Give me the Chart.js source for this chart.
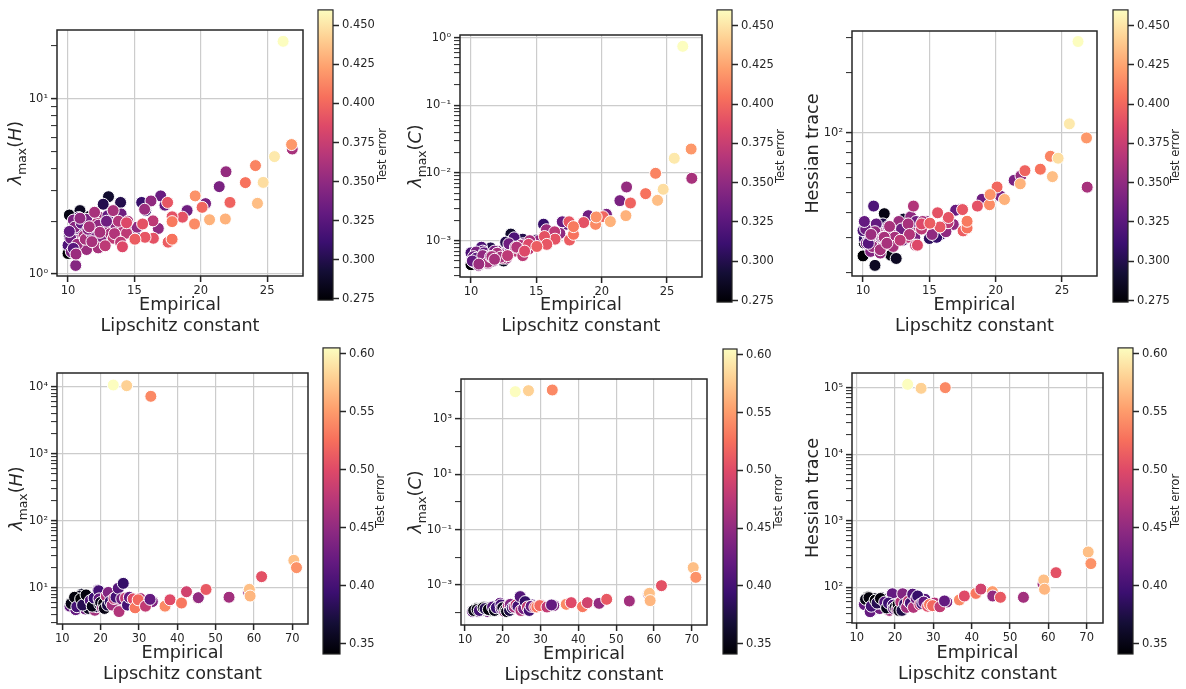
<!DOCTYPE html>
<html>
<head>
<meta charset="utf-8">
<script src="https://cdn.jsdelivr.net/npm/chart.js@4.4.1/dist/chart.umd.min.js"></script>
<style>
body { margin: 0; background: #fff; width: 1186px; height: 689px; position: relative; overflow: hidden; }
canvas { position: absolute; }
</style>
</head>
<body>
<canvas id="p1"></canvas><canvas id="p2"></canvas><canvas id="p3"></canvas>
<canvas id="p4"></canvas><canvas id="p5"></canvas><canvas id="p6"></canvas>
<canvas id="c1"></canvas><canvas id="c2"></canvas><canvas id="c3"></canvas>
<canvas id="c4"></canvas><canvas id="c5"></canvas><canvas id="c6"></canvas>
<script>
// top row: one network per point, shared by the three upper plots
const topLip = [10.00,10.10,10.90,11.60,12.10,12.50,13.05,12.65,13.96,11.50,11.00,10.10,15.00,10.33,15.85,15.55,10.50,10.00,10.80,13.30,
  10.90,17.30,16.98,18.97,12.85,10.40,10.25,21.39,20.36,10.58,12.00,11.10,10.75,16.80,16.25,11.30,21.90,12.30,11.40,15.77,
  10.2,10.5,10.7,11.0,11.2,11.4,11.7,11.9,12.2,12.5,12.7,13.0,13.2,13.6,13.9,14.2,14.8,10.4,10.9,11.3,11.8,12.3,12.9,13.4,10.1,10.6,11.5,12.0,14.0,15.2,
  26.89,13.40,12.40,12.27,11.60,11.80,14.50,13.80,13.50,16.40,14.41,13.96,12.80,14.41,14.10,18.62,16.43,15.62,17.84,17.50,
  15.80,17.54,15.04,22.20,20.10,23.36,17.84,17.84,24.12,19.53,19.58,26.84,21.85,20.66,24.27,24.70,25.55,26.20];
const topErr = [0.274,0.280,0.285,0.280,0.280,0.285,0.290,0.300,0.300,0.300,0.300,0.305,0.305,0.310,0.310,0.310,0.315,0.320,0.320,0.320,
  0.330,0.330,0.332,0.335,0.340,0.340,0.340,0.340,0.340,0.345,0.345,0.350,0.350,0.350,0.350,0.352,0.352,0.355,0.355,0.355,
  0.335,0.345,0.355,0.330,0.360,0.340,0.350,0.335,0.365,0.345,0.355,0.330,0.360,0.350,0.340,0.365,0.345,0.325,0.350,0.360,0.340,0.350,0.335,0.370,0.330,0.355,0.345,0.360,0.335,0.350,
  0.360,0.360,0.360,0.360,0.360,0.360,0.360,0.365,0.365,0.370,0.370,0.370,0.370,0.385,0.385,0.390,0.390,0.390,0.390,0.392,
  0.392,0.395,0.395,0.398,0.400,0.405,0.405,0.408,0.412,0.415,0.418,0.420,0.430,0.430,0.435,0.447,0.452,0.460];
const topLamH = [1.31,2.17,2.30,2.13,1.86,1.90,2.76,2.50,2.56,1.95,1.50,1.63,1.67,1.78,2.30,2.56,1.90,1.46,2.10,1.82,
  1.70,2.47,2.79,2.30,1.72,2.03,1.34,3.15,2.52,1.12,1.60,2.03,1.56,1.82,2.61,1.40,3.83,2.12,1.38,2.34,
  1.60,1.85,1.48,1.95,1.65,2.05,1.75,1.55,1.95,1.62,1.85,2.15,1.70,1.90,2.05,1.80,1.75,1.40,2.08,1.58,1.70,1.90,2.00,1.60,1.75,1.30,1.80,2.25,2.20,1.85,
  5.16,2.30,1.73,1.41,1.86,1.53,2.00,2.00,1.70,2.01,1.71,1.52,1.45,1.96,1.43,2.11,1.60,1.93,2.12,2.56,
  1.62,1.52,1.58,2.56,2.40,3.32,1.58,1.99,4.15,1.93,2.79,5.47,2.06,2.04,2.53,3.33,4.67,21.2];
const topLamC = [0.00044,0.00060,0.00055,0.00062,0.00058,0.00050,0.00125,0.00095,0.00105,0.00078,0.00062,0.00065,0.00102,0.00060,0.00120,0.00175,0.00070,0.00066,0.00080,0.00110,
  0.00070,0.00175,0.00190,0.00234,0.00072,0.00068,0.00048,0.00390,0.00245,0.00043,0.00070,0.00062,0.00052,0.00128,0.00125,0.00046,0.00621,0.00058,0.00050,0.00145,
  0.00058,0.00052,0.00047,0.00066,0.00055,0.00060,0.00050,0.00063,0.00058,0.00064,0.00055,0.00075,0.00068,0.00078,0.00085,0.00072,0.00095,0.00055,0.00060,0.00048,0.00070,0.00062,0.00090,0.00070,0.00050,0.00045,0.00058,0.00065,0.00090,0.00100,
  0.00834,0.00080,0.00055,0.00057,0.00058,0.00053,0.00100,0.00085,0.00080,0.00135,0.00075,0.00060,0.00060,0.00088,0.00070,0.00185,0.00105,0.00115,0.00124,0.00190,
  0.00088,0.00102,0.00082,0.00360,0.00226,0.00495,0.00124,0.00161,0.00989,0.00174,0.00224,0.0226,0.00234,0.00191,0.00394,0.00574,0.0165,0.745];
const topTrace = [24.2,28,21.7,39.4,24.4,23.5,37,33,32.2,35,26,29.5,29.6,31,31,30,27,32.4,43,30,
  31,41.3,41,46.5,31,34,28,57.9,48.2,25.5,30,32,29,34.8,32,25,61,33,27,33.8,
  33,29,27,35,31,30,28,34,32,30,36,29,33,38,30,34,36,28,32,26,29,31,33,30,36,31,30,34,36,31,
  53.5,35,30,27,30,28,36,43,31,35.5,33,27.4,29,35,27.4,43,37.7,39.8,33.4,41.3,
  33.8,32.3,35.3,64.7,53.6,65.8,33.4,36.1,76.4,43.7,49.1,94.4,55.6,46.4,60.4,74.7,111,287];

// bottom row
const botLip = [13.0,12.5,12.0,14.0,15.0,13.5,15.5,16.0,14.5,16.5,14.2,15.8,17.0,17.5,16.8,18.0,18.5,18.8,19.0,19.3,
  12.3,13.2,13.8,14.8,15.3,16.2,17.3,17.8,18.3,19.8,20.3,21.3,22.8,23.8,25.2,26.2,27.8,29.3,30.3,33.5,
  19.5,19.6,20.0,20.5,20.8,21.0,21.5,21.8,22.0,22.5,23.0,23.5,24.0,24.6,24.8,25.5,25.9,26.5,27.0,27.5,
  28.5,29.0,29.8,31.7,32.9,36.8,38.1,41.1,42.4,45.4,45.5,47.5,53.5,58.6,58.8,59.0,62.0,70.4,71.1,33.1,
  26.8,23.3];
const botErr = [0.341,0.380,0.420,0.440,0.360,0.420,0.345,0.430,0.355,0.370,0.345,0.410,0.350,0.440,0.355,0.345,0.460,0.350,0.380,0.420,
  0.350,0.345,0.400,0.342,0.380,0.346,0.410,0.352,0.395,0.360,0.430,0.400,0.420,0.450,0.440,0.460,0.410,0.490,0.470,0.440,
  0.400,0.420,0.355,0.450,0.345,0.350,0.470,0.375,0.440,0.390,0.460,0.480,0.400,0.410,0.470,0.430,0.390,0.480,0.400,0.420,
  0.500,0.530,0.520,0.480,0.420,0.540,0.500,0.530,0.490,0.550,0.450,0.510,0.460,0.460,0.570,0.565,0.505,0.570,0.545,0.540,
  0.580,0.605];
const botLamH = [6.5,6.0,5.3,5.0,8.0,4.7,6.0,4.8,7.5,7.0,5.6,5.8,5.5,6.2,4.9,6.5,4.6,7.5,5.2,9.2,
  5.8,7.2,5.2,6.8,5.5,7.8,6.4,5.3,7.0,5.6,6.3,5.2,7.0,6.0,5.8,6.5,6.0,5.5,6.9,6.2,
  9.0,6.8,6.0,5.0,5.8,4.9,7.5,5.5,8.5,6.2,5.5,6.9,7.2,9.8,4.4,6.8,11.6,7.0,5.5,7.2,
  6.8,5.0,6.6,5.3,6.7,5.3,6.6,5.9,8.7,7.0,7.1,9.4,7.2,8.6,9.44,7.5,14.6,25.6,19.9,7180,
  10350,10590];
const botLamC = [0.00014,0.00012,0.00011,0.00013,0.00016,0.00011,0.00012,0.00011,0.00014,0.00015,0.00012,0.00013,0.00012,0.00014,0.00012,0.00017,0.00012,0.00016,0.00013,0.00022,
  0.00012,0.00013,0.00012,0.00015,0.00014,0.00013,0.00016,0.00012,0.00015,0.00014,0.00013,0.00016,0.00017,0.00015,0.00018,0.00016,0.00019,0.00017,0.00018,0.00018,
  0.00019,0.00014,0.00015,0.00011,0.00013,0.00011,0.00018,0.00012,0.00020,0.00015,0.00016,0.00019,0.00017,0.00038,0.00012,0.00014,0.00025,0.00016,0.00012,0.00017,
  0.00016,0.00016,0.00018,0.00016,0.00019,0.00020,0.00023,0.000165,0.00023,0.00021,0.000217,0.000303,0.000264,0.00047,0.00050,0.000272,0.000946,0.00424,0.00189,11170,
  10570,9720];
const botTrace = [72,62,55,45,63,43,60,48,68,70,57,58,66,52,63,62,45,65,57,80,
  66,70,52,64,58,68,60,49,58,52,56,50,62,58,64,56,66,55,58,60,
  54,48,50,47,55,45,60,45,80,56,50,62,58,79,50,68,74,55,57,60,
  52,55,53,51,62.4,64.6,74,81,94,86,74,70.8,70.8,112,129,93.6,166,340,227,100000,
  97700,112000];

// tick labels
const topLipTicks = [10, 15, 20, 25];
const botLipTicks = [10, 20, 30, 40, 50, 60, 70];
const topErrTicks = [0.275, 0.300, 0.325, 0.350, 0.375, 0.400, 0.425, 0.450];
const botErrTicks = [0.35, 0.40, 0.45, 0.50, 0.55, 0.60];
const decH1 = [0, 1];
const decC1 = [-3, -2, -1, 0];
const decT1 = [2];
const decH2 = [1, 2, 3, 4];
const decC2 = [-3, -1, 1, 3];
const decT2 = [2, 3, 4, 5];

const FONT = "'DejaVu Sans', sans-serif";
const INK = '#262626';
const magmaStops = ['#000004','#140e36','#3b0f70','#641a80','#8c2981','#b73779','#de4968','#f7705c','#fe9f6d','#fecf92','#fcfdbf'];

function hexRgb(h) {
    return [parseInt(h.slice(1, 3), 16), parseInt(h.slice(3, 5), 16), parseInt(h.slice(5, 7), 16)];
}

function magma(t) {
    t = Math.max(0, Math.min(1, t));
    const s = t * (magmaStops.length - 1);
    const i = Math.min(Math.floor(s), magmaStops.length - 2);
    const f = s - i;
    const a = hexRgb(magmaStops[i]), b = hexRgb(magmaStops[i + 1]);
    return 'rgb(' + a.map((v, k) => Math.round(v + (b[k] - v) * f)).join(',') + ')';
}

const SUP = {'-': '⁻', '0': '⁰', '1': '¹', '2': '²', '3': '³', '4': '⁴', '5': '⁵'};
function decadeLabel(v) {
    const e = String(Math.round(Math.log10(v)));
    return '10' + e.split('').map(ch => SUP[ch]).join('');
}

// log ticks: decades (labelled ones listed) plus minor ticks in between
function logTicks(min, max, decades, minor) {
    const out = [];
    const subs = minor ? [1, 2, 3, 4, 5, 6, 7, 8, 9] : [1];
    for (let e = Math.floor(Math.log10(min)); e <= Math.ceil(Math.log10(max)); e++) {
        subs.forEach(m => {
            const v = m * Math.pow(10, e);
            if (v >= min && v <= max) out.push({value: v, lab: m === 1 && decades.includes(e)});
        });
    }
    return out;
}

// axes frame (all four spines)
const frame = {
    id: 'frame',
    afterDatasetsDraw(chart, args, o) {
        const a = chart.chartArea, c = chart.ctx;
        c.save();
        c.strokeStyle = INK;
        c.lineWidth = o.w;
        c.strokeRect(a.left, a.top, a.right - a.left, a.bottom - a.top);
        c.restore();
    }
};

// rotated axis titles with mathtext-like pieces: i = italic, r = roman, s = subscript
const mathTitle = {
    id: 'mathTitle',
    afterDraw(chart, args, o) {
        if (!o.parts) return;
        const c = chart.ctx, a = chart.chartArea, size = o.size;
        const fontOf = p => (p[1] === 'i' ? 'italic ' : '') + (p[1] === 's' ? size * 0.7 : size) + 'px ' + FONT;
        let total = 0;
        const w = o.parts.map(p => { c.font = fontOf(p); const m = c.measureText(p[0]).width; total += m; return m; });
        c.save();
        c.translate(o.x, (a.top + a.bottom) / 2);
        c.rotate(-Math.PI / 2);
        c.fillStyle = INK;
        c.textBaseline = 'alphabetic';
        let x = -total / 2;
        o.parts.forEach((p, i) => {
            c.font = fontOf(p);
            c.fillText(p[0], x, size * 0.36 + (p[1] === 's' ? size * 0.25 : 0));
            x += w[i];
        });
        c.restore();
    }
};

function place(cv, box) {
    cv.width = box[2];
    cv.height = box[3];
    cv.style.left = box[0] + 'px';
    cv.style.top = box[1] + 'px';
    cv.style.width = box[2] + 'px';
    cv.style.height = box[3] + 'px';
}

function scatterChart(p) {
    const cv = document.getElementById(p.id);
    place(cv, p.box);
    const [bx, by, bw, bh] = p.box;
    const [l, t, r, b] = p.plot;
    const lo = Math.min(...p.err), hi = Math.max(...p.err);
    new Chart(cv, {
        type: 'scatter',
        data: {
            datasets: [{
                data: p.lip.map((x, i) => ({x: x, y: p.val[i]})),
                pointBackgroundColor: p.err.map(e => magma((e - lo) / (hi - lo))),
                pointBorderColor: '#ffffff',
                pointBorderWidth: 1,
                pointRadius: 6,
                pointHoverRadius: 6
            }]
        },
        options: {
            responsive: false,
            animation: false,
            events: [],
            layout: {padding: {left: 0, top: t - by, right: bx + bw - r, bottom: 0}},
            plugins: {
                legend: {display: false},
                tooltip: {enabled: false},
                frame: {w: 1.5},
                mathTitle: {parts: p.title, size: 17.6, x: p.tx}
            },
            scales: {
                x: {
                    type: 'linear',
                    min: p.xr[0],
                    max: p.xr[1],
                    afterBuildTicks: s => { s.ticks = p.xTicks.map(v => ({value: v})); },
                    afterFit: s => { s.height = by + bh - b; },
                    border: {display: false},
                    grid: {color: '#cccccc', lineWidth: 1.2, drawTicks: true, tickLength: 6, tickColor: INK, tickWidth: 1.5},
                    ticks: {font: {family: FONT, size: 11.5}, color: INK, padding: 2, maxRotation: 0, autoSkip: false},
                    title: {
                        display: true,
                        text: ['Empirical', 'Lipschitz constant'],
                        font: {family: FONT, size: 17.6, lineHeight: 1.14},
                        color: INK,
                        padding: {top: 0, bottom: p.tpad}
                    }
                },
                y: {
                    type: 'logarithmic',
                    min: p.yr[0],
                    max: p.yr[1],
                    afterBuildTicks: s => { s.ticks = logTicks(p.yr[0], p.yr[1], p.dec, p.minor); },
                    afterFit: s => { s.width = l - bx; },
                    border: {display: false},
                    grid: {
                        color: c => (c.tick && c.tick.lab) ? '#cccccc' : 'rgba(0,0,0,0)',
                        lineWidth: 1.2,
                        drawTicks: true,
                        tickLength: 6,
                        tickColor: INK,
                        tickWidth: c => (c.tick && c.tick.lab) ? 1.5 : 1
                    },
                    ticks: {
                        callback: (v, i, ticks) => ticks[i].lab ? decadeLabel(v) : '',
                        font: {family: FONT, size: 11.5},
                        color: INK,
                        padding: 3,
                        autoSkip: false
                    }
                }
            }
        },
        plugins: [frame, mathTitle]
    });
}

function colorBar(c) {
    const cv = document.getElementById(c.id);
    place(cv, c.box);
    const [bx, by, bw, bh] = c.box;
    const [l, t, r, b] = c.bar;
    const lo = Math.min(...c.err), hi = Math.max(...c.err);
    new Chart(cv, {
        type: 'bar',
        data: {
            labels: [''],
            datasets: [{
                data: [[lo, hi]],
                backgroundColor: ctx => {
                    const a = ctx.chart.chartArea;
                    if (!a) return '#000000';
                    const g = ctx.chart.ctx.createLinearGradient(0, a.bottom, 0, a.top);
                    magmaStops.forEach((s, i) => g.addColorStop(i / (magmaStops.length - 1), s));
                    return g;
                },
                borderWidth: 0,
                barPercentage: 1,
                categoryPercentage: 1
            }]
        },
        options: {
            responsive: false,
            animation: false,
            events: [],
            layout: {padding: {left: l - bx, top: t - by, right: 0, bottom: by + bh - b}},
            plugins: {
                legend: {display: false},
                tooltip: {enabled: false},
                frame: {w: 1.2},
                mathTitle: {parts: [['Test error', 'r']], size: 11.5, x: c.lx}
            },
            scales: {
                x: {display: false},
                y: {
                    position: 'right',
                    min: lo,
                    max: hi,
                    afterBuildTicks: s => { s.ticks = c.ticks.map(v => ({value: v})); },
                    afterFit: s => { s.width = bx + bw - r; },
                    border: {display: false},
                    grid: {drawOnChartArea: false, drawTicks: true, tickLength: 6, tickWidth: 1.5, tickColor: INK},
                    ticks: {callback: v => v.toFixed(c.digits), font: {family: FONT, size: 11.5}, color: INK, padding: 3, autoSkip: false}
                }
            }
        },
        plugins: [frame, mathTitle]
    });
}

const lamH = [['λ', 'i'], ['max', 's'], ['(', 'r'], ['H', 'i'], [')', 'r']];
const lamC = [['λ', 'i'], ['max', 's'], ['(', 'r'], ['C', 'i'], [')', 'r']];
const trace = [['Hessian trace', 'r']];

scatterChart({id: 'p1', lip: topLip, err: topErr, val: topLamH, xTicks: topLipTicks, dec: decH1, minor: true, title: lamH,
    box: [0, 0, 312, 340], plot: [57, 30, 303, 276], xr: [9.17, 27.7], yr: [0.975, 24.6], tx: 15, tpad: 4});
scatterChart({id: 'p2', lip: topLip, err: topErr, val: topLamC, xTicks: topLipTicks, dec: decC1, minor: true, title: lamC,
    box: [400, 0, 310, 340], plot: [460, 35, 702, 277], xr: [9.16, 27.67], yr: [2.9e-4, 1.096], tx: 15, tpad: 4});
scatterChart({id: 'p3', lip: topLip, err: topErr, val: topTrace, xTicks: topLipTicks, dec: decT1, minor: true, title: trace,
    box: [790, 0, 315, 340], plot: [852, 31, 1097, 276], xr: [9.17, 27.63], yr: [19.2, 324], tx: 22, tpad: 4});
scatterChart({id: 'p4', lip: botLip, err: botErr, val: botLamH, xTicks: botLipTicks, dec: decH2, minor: true, title: lamH,
    box: [0, 345, 316, 344], plot: [57, 373, 308, 624], xr: [8.62, 74.1], yr: [2.87, 16000], tx: 16, tpad: 5});
scatterChart({id: 'p5', lip: botLip, err: botErr, val: botLamC, xTicks: botLipTicks, dec: decC2, minor: false, title: lamC,
    box: [400, 345, 315, 344], plot: [461, 379, 707, 625], xr: [8.94, 74.05], yr: [3.58e-5, 27900], tx: 15, tpad: 4});
scatterChart({id: 'p6', lip: botLip, err: botErr, val: botTrace, xTicks: botLipTicks, dec: decT2, minor: true, title: trace,
    box: [790, 345, 321, 344], plot: [852, 373, 1103, 623], xr: [8.77, 74.26], yr: [29.1, 166000], tx: 22, tpad: 5});

colorBar({id: 'c1', err: topErr, ticks: topErrTicks, digits: 3, box: [316, 0, 80, 310], bar: [318, 1, 333, 305], lx: 66});
colorBar({id: 'c2', err: topErr, ticks: topErrTicks, digits: 3, box: [712, 0, 78, 312], bar: [717, 6, 732, 306], lx: 68});
colorBar({id: 'c3', err: topErr, ticks: topErrTicks, digits: 3, box: [1108, 0, 78, 312], bar: [1113, 1, 1128, 305], lx: 67});
colorBar({id: 'c4', err: botErr, ticks: botErrTicks, digits: 2, box: [318, 338, 80, 351], bar: [323, 343, 340, 654], lx: 62});
colorBar({id: 'c5', err: botErr, ticks: botErrTicks, digits: 2, box: [718, 338, 72, 351], bar: [723, 349, 737, 654], lx: 60});
colorBar({id: 'c6', err: botErr, ticks: botErrTicks, digits: 2, box: [1113, 338, 73, 351], bar: [1118, 343, 1133, 654], lx: 62});
</script>
</body>
</html>
